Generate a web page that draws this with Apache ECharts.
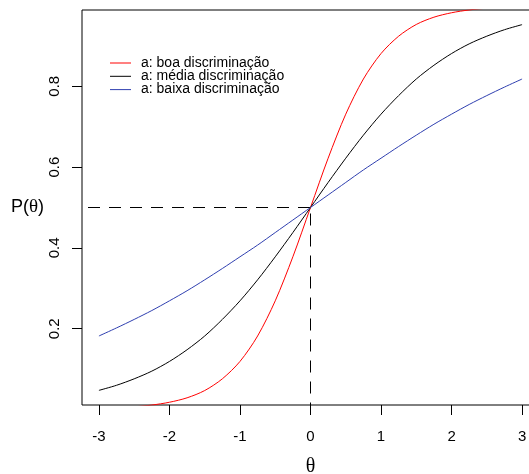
<!DOCTYPE html>
<html>
<head>
<meta charset="utf-8">
<script src="https://cdn.jsdelivr.net/npm/echarts@6/dist/echarts.min.js"></script>
<style>html,body{margin:0;padding:0;background:#fff}#c{width:529px;height:474px}</style>
</head>
<body>
<div id="c"></div>
<script>
// theta grid (x values)
const theta = [-3,-2.75,-2.5,-2.25,-2,-1.75,-1.5,-1.25,-1,-0.75,-0.5,-0.25,0,0.25,0.5,0.75,1,1.25,1.5,1.75,2,2.25,2.5,2.75,3];
// a: boa discriminação (red)
const pBoa = [0.0025,0.0041,0.0067,0.011,0.018,0.029,0.047,0.076,0.119,0.182,0.269,0.378,0.5,0.622,0.731,0.818,0.881,0.924,0.953,0.971,0.982,0.989,0.9933,0.9959,0.9975];
// a: média discriminação (black)
const pMedia = [0.0474,0.060,0.076,0.095,0.119,0.148,0.182,0.223,0.269,0.321,0.378,0.438,0.5,0.562,0.622,0.679,0.731,0.777,0.818,0.852,0.881,0.905,0.924,0.940,0.9526];
// a: baixa discriminação (blue)
const pBaixa = [0.182,0.202,0.223,0.245,0.269,0.294,0.321,0.349,0.378,0.407,0.438,0.469,0.5,0.531,0.562,0.593,0.622,0.651,0.679,0.706,0.731,0.755,0.777,0.798,0.818];
const seriesNames = ['a: boa discriminação','a: média discriminação','a: baixa discriminação'];
const seriesColors = ['#ff0000','#000000','#2f3fb0'];
const xTicks = [-3,-2,-1,0,1,2,3];
const yTicks = [0.2,0.4,0.6,0.8];
const refTheta = 0;
const refP = 0.5;

// R-style 4% axis extension
const xr = [Math.min(...theta), Math.max(...theta)];
const yr = [Math.min(...pMedia), Math.max(...pMedia)];
const xPad = (xr[1]-xr[0])*0.04, yPad = (yr[1]-yr[0])*0.04;
const xMin = xr[0]-xPad, xMax = xr[1]+xPad, yMin = yr[0]-yPad, yMax = yr[1]+yPad;

const pairs = arr => theta.map((t,i)=>[t, arr[i]]);
const FONT = 'Liberation Sans';

const chart = echarts.init(document.getElementById('c'), null, {renderer:'canvas'});
const curve = (name, arr, color) => ({
  name, type:'line', data: pairs(arr), showSymbol:false, symbol:'none',
  smooth:0.3, clip:true,
  lineStyle:{color, width:1}, itemStyle:{color}, z:3
});
const dashStyle = {color:'#000', width:1, type:[12,9], dashOffset:15};
chart.setOption({
  animation:false,
  backgroundColor:'#fff',
  grid:{left:82, top:10, width:457, height:395, show:true, borderColor:'#000', borderWidth:1,
        backgroundColor:'transparent', containLabel:false, outerBoundsMode:'none'},
  legend:{
    data: seriesNames.map((n,i)=>({name:n, icon:'rect', itemStyle:{color:seriesColors[i]}})),
    orient:'vertical', left:110, top:56, padding:0,
    itemWidth:21, itemHeight:1, itemGap:-0.7,
    textStyle:{fontFamily:FONT, fontSize:14, color:'#000', lineHeight:14, padding:[0,0,0,5]}
  },
  xAxis:{
    type:'value', min:xMin, max:xMax,
    name:'θ', nameLocation:'middle', nameGap:52,
    nameTextStyle:{fontFamily:'Liberation Serif', fontSize:20, color:'#000'},
    axisLine:{show:false, onZero:false},
    axisTick:{show:true, length:10, customValues:xTicks, lineStyle:{color:'#000'}},
    axisLabel:{customValues:xTicks, fontFamily:FONT, fontSize:15, color:'#000', margin:24},
    splitLine:{show:false}
  },
  yAxis:{
    type:'value', min:yMin, max:yMax,
    name:'{a|P(}{b|θ}{a|)}', nameLocation:'middle', nameRotate:0, nameGap:36,
    nameTextStyle:{rich:{a:{fontFamily:FONT, fontSize:18, color:'#000'}, b:{fontFamily:'Liberation Serif', fontSize:19, color:'#000'}}},
    axisLine:{show:false, onZero:false},
    axisTick:{show:true, length:10, customValues:yTicks, lineStyle:{color:'#000'}},
    axisLabel:{customValues:yTicks, rotate:90, fontFamily:FONT, fontSize:15, color:'#000', margin:20,
      formatter: v => v.toFixed(1)},
    splitLine:{show:false}
  },
  series:[
    curve(seriesNames[0], pBoa, seriesColors[0]),
    curve(seriesNames[1], pMedia, seriesColors[1]),
    curve(seriesNames[2], pBaixa, seriesColors[2]),
    {name:'refH', type:'line', data:[[xMin, refP],[refTheta, refP]], showSymbol:false, symbol:'none', lineStyle:dashStyle, z:2, silent:true},
    {name:'refV', type:'line', data:[[refTheta, refP],[refTheta, yMin]], showSymbol:false, symbol:'none', lineStyle:dashStyle, z:2, silent:true}
  ]
});
</script>
</body>
</html>
